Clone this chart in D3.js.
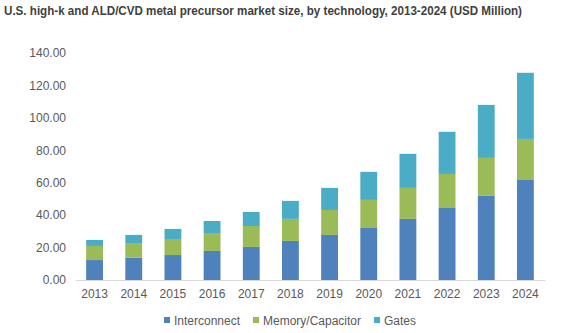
<!DOCTYPE html>
<html><head><meta charset="utf-8">
<script src="https://cdn.jsdelivr.net/npm/d3@7"></script>
<style>body{margin:0;background:#fff;} svg{display:block;font-family:"Liberation Sans",Arial,sans-serif;}</style>
</head><body><svg id="c" width="577" height="333"></svg>
<script>
const years = ["2013","2014","2015","2016","2017","2018","2019","2020","2021","2022","2023","2024"];
const seriesNames = ["Interconnect","Memory/Capacitor","Gates"];
const interconnect = [12.3,13.8,15.4,17.9,20.4,24.1,27.8,32.1,37.7,44.4,51.9,61.7];
const memoryCapacitor = [8.7,9.0,9.9,11.1,12.9,13.6,15.4,17.3,19.1,21.0,23.4,25.3];
const gates = [3.7,5.0,6.2,7.4,8.7,11.1,13.6,17.3,21.0,26.0,32.7,40.8];
const yTicks = [0,20,40,60,80,100,120,140];
const colors = ["#4F81BD","#9BBB59","#4BACC6"];

const svg = d3.select("#c");
svg.append("text").attr("x",4).attr("y",15).attr("font-size",12.5).attr("font-weight","bold")
  .attr("textLength",518).attr("lengthAdjust","spacingAndGlyphs")
  .attr("fill","#404040").text("U.S. high-k and ALD/CVD metal precursor market size, by technology, 2013-2024 (USD Million)");

const x = d3.scaleBand().domain(years).range([75,545]).paddingInner(0.57).paddingOuter(0.285);
const y = d3.scaleLinear().domain([0,140]).range([280,53]);

const rows = years.map((yr,i)=>({year:yr, Interconnect:interconnect[i], "Memory/Capacitor":memoryCapacitor[i], Gates:gates[i]}));
const stack = d3.stack().keys(seriesNames)(rows);

const yAxis = svg.append("g").attr("transform","translate(66,0)")
  .call(d3.axisLeft(y).tickValues(yTicks).tickFormat(d3.format(".2f")).tickSize(0).tickPadding(0));
yAxis.select(".domain").remove();
yAxis.selectAll("text").attr("font-size",12).attr("fill","#595959").attr("font-family","Liberation Sans, Arial, sans-serif");

stack.forEach((s,k)=>{
  svg.append("g").attr("fill",colors[k]).selectAll("rect").data(s).join("rect")
    .attr("x",d=>x(d.data.year)).attr("width",x.bandwidth())
    .attr("y",d=>y(d[1])).attr("height",d=>y(d[0])-y(d[1]));
});

const xAxis = svg.append("g").attr("transform","translate(0,280)")
  .call(d3.axisBottom(x).tickSize(0).tickPadding(9));
xAxis.select(".domain").attr("stroke","#d9d9d9").attr("stroke-width",1);
xAxis.selectAll("text").attr("font-size",12).attr("fill","#595959").attr("font-family","Liberation Sans, Arial, sans-serif");

const legX = [164,253,374];
const leg = svg.append("g");
seriesNames.forEach((n,k)=>{
  leg.append("rect").attr("x",legX[k]).attr("y",317).attr("width",6).attr("height",6).attr("fill",colors[k]);
  leg.append("text").attr("x",legX[k]+10).attr("y",324.5).attr("font-size",12).attr("fill","#595959").text(n);
});
</script></body></html>
